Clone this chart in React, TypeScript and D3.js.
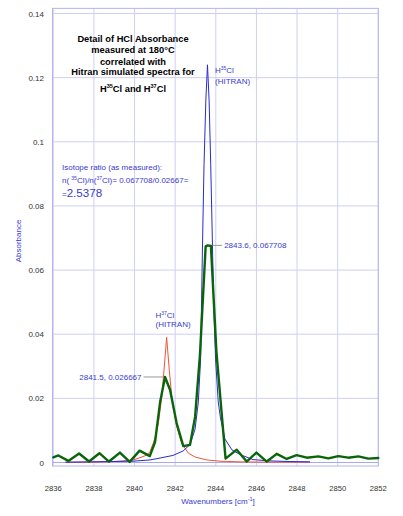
import React from "react";
import * as d3 from "d3";

// ---- data ----
const xTicks = [2836, 2838, 2840, 2842, 2844, 2846, 2848, 2850, 2852];
const yTicks = [0, 0.02, 0.04, 0.06, 0.08, 0.1, 0.12, 0.14];
const yTickLabels = ["0", "0.02", "0.04", "0.06", "0.08", "0.1", "0.12", "0.14"];

// measured spectrum (green)
const measWn = [
  2836.0, 2836.25, 2836.74, 2837.27, 2837.76, 2838.27, 2838.74, 2839.28, 2839.76, 2840.25,
  2840.75, 2841.01, 2841.26, 2841.5, 2841.75, 2842.07, 2842.4, 2842.73, 2842.98, 2843.22,
  2843.5, 2843.6, 2843.76, 2844.03, 2844.48, 2845.03, 2845.52, 2846.0, 2846.51, 2847.0,
  2847.49, 2847.98, 2848.48, 2849.05, 2849.54, 2850.03, 2850.52, 2851.02, 2851.51, 2852.0,
];
const measAbs = [
  0.0016, 0.0022, 0.0005, 0.0028, 0.0003, 0.0029, 0.0003, 0.0031, 0.0002, 0.0037,
  0.002, 0.0064, 0.0189, 0.026667, 0.0226, 0.0123, 0.0051, 0.0055, 0.0142, 0.0335,
  0.0674, 0.067708, 0.0675, 0.0345, 0.0012, 0.004, 0.0003, 0.0031, 0.0003, 0.0027,
  0.0011, 0.0023, 0.0015, 0.0019, 0.0013, 0.002, 0.0015, 0.0019, 0.0012, 0.0014,
];

// HITRAN H35Cl (blue)
const h35Wn = [
  2836.6, 2837.81, 2838.79, 2839.92, 2840.76, 2841.26, 2841.89, 2842.39, 2842.73, 2842.98,
  2843.14, 2843.25, 2843.3, 2843.35, 2843.42, 2843.51, 2843.59, 2843.67, 2843.75, 2843.83,
  2843.89, 2843.99, 2844.12, 2844.23, 2844.45, 2844.8, 2845.19, 2845.83, 2846.67, 2847.65,
  2848.64,
];
const h35Abs = [
  0.0001, 0.0002, 0.0003, 0.0004, 0.0008, 0.0014, 0.0022, 0.0036, 0.0056, 0.0104,
  0.0189, 0.032, 0.0507, 0.0694, 0.0928, 0.113, 0.124, 0.113, 0.0928, 0.0694,
  0.0507, 0.032, 0.0189, 0.0139, 0.0073, 0.0039, 0.0025, 0.0009, 0.0005, 0.0003,
  0.0002,
];

// HITRAN H37Cl (red)
const h37Wn = [
  2836.6, 2837.81, 2838.64, 2839.28, 2839.94, 2840.27, 2840.6, 2840.76, 2840.92, 2841.03,
  2841.17, 2841.34, 2841.45, 2841.58, 2841.71, 2841.83, 2842.08, 2842.32, 2842.65, 2842.98,
  2843.55, 2844.21, 2845.19, 2846.67, 2848.64,
];
const h37Abs = [
  0.0001, 0.0001, 0.0002, 0.0004, 0.0008, 0.0015, 0.0023, 0.0034, 0.006, 0.0083,
  0.0122, 0.0205, 0.0288, 0.039, 0.0288, 0.0205, 0.0112, 0.006, 0.0029, 0.0017,
  0.0008, 0.0004, 0.0002, 0.0001, 0.0001,
];

const peak35 = { wn: 2843.6, abs: 0.067708, label: "2843.6, 0.067708" };
const peak37 = { wn: 2841.5, abs: 0.026667, label: "2841.5, 0.026667" };

const FONT = "'Liberation Sans', Arial, Helvetica, sans-serif";
const BLUE_TEXT = "#3a3ad0";

export default function App() {
  const W = 403;
  const H = 516;
  const x = d3.scaleLinear().domain([2836, 2852]).range([53.3, 378.3]);
  const y = d3.scaleLinear().domain([0, 0.14]).range([462.5, 13.5]);

  const line = d3
    .line<[number, number]>()
    .x((d) => x(d[0]))
    .y((d) => y(d[1]));

  const zip = (a: number[], b: number[]) => a.map((v, i) => [v, b[i]] as [number, number]);

  const frameL = x(2836) - 0.8;
  const frameR = x(2852);
  const frameT = y(0.1416);
  const frameB = y(-0.0011);

  const p35x = x(peak35.wn);
  const p35y = y(peak35.abs);
  const p37x = x(peak37.wn);
  const p37y = y(peak37.abs);

  return (
    <svg
      width={W}
      height={H}
      style={{ position: "absolute", left: 0, top: 0, background: "#fff" }}
      fontFamily={FONT}
    >
      <rect x={0} y={0} width={W} height={H} fill="#fff" />
      {/* grid */}
      {xTicks.map((t) => (
        <line key={"gx" + t} x1={x(t)} x2={x(t)} y1={frameT} y2={frameB} stroke="#cfcff5" strokeWidth={1} />
      ))}
      {yTicks.map((t) => (
        <line
          key={"gy" + t}
          x1={frameL}
          x2={frameR}
          y1={y(t)}
          y2={y(t)}
          stroke={t === 0 ? "#a8a8ee" : "#cfcff5"}
          strokeWidth={1}
        />
      ))}
      {/* frame */}
      <rect x={frameL} y={frameT} width={frameR - frameL} height={frameB - frameT} fill="none" stroke="#b4b4f0" strokeWidth={1} />

      {/* tick labels */}
      {yTicks.map((t, i) => (
        <text key={"ty" + t} x={44} y={y(t) + 3} fontSize={8} textAnchor="end" fill="#333">
          {yTickLabels[i]}
        </text>
      ))}
      {xTicks.map((t) => (
        <text key={"tx" + t} x={x(t)} y={490.5} fontSize={7.6} textAnchor="middle" fill="#333">
          {String(t)}
        </text>
      ))}

      {/* axis titles */}
      <text x={21.3} y={241} fontSize={8} fill={BLUE_TEXT} textAnchor="middle" transform="rotate(-90 21.3 241)">
        Absorbance
      </text>
      <text x={218} y={504} fontSize={8} fill={BLUE_TEXT} textAnchor="middle">
        Wavenumbers [cm<tspan fontSize={5.5} dy={-3}>-1</tspan>
        <tspan dy={3}>]</tspan>
      </text>

      {/* curves */}
      <path d={line(zip(h37Wn, h37Abs)) || ""} fill="none" stroke="#f05436" strokeWidth={1} />
      <path d={line(zip(h35Wn, h35Abs)) || ""} fill="none" stroke="#2a2ad4" strokeWidth={1} />
      <path
        d={line(zip(measWn, measAbs)) || ""}
        fill="none"
        stroke="#0a640a"
        strokeWidth={2.4}
        strokeLinejoin="round"
        strokeLinecap="round"
      />

      {/* title */}
      <g fontSize={9.3} fontWeight="bold" fill="#000" textAnchor="middle">
        <text x={133} y={41.5}>Detail of HCl Absorbance</text>
        <text x={133} y={53}>measured at 180°C</text>
        <text x={133} y={64.5}>correlated with</text>
        <text x={133} y={75}>Hitran simulated spectra for</text>
        <text x={133} y={91.5}>
          H<tspan fontSize={5.5} dy={-4}>35</tspan>
          <tspan dy={4}>Cl and H</tspan>
          <tspan fontSize={5.5} dy={-4}>37</tspan>
          <tspan dy={4}>Cl</tspan>
        </text>
      </g>

      {/* isotope ratio */}
      <g fill={BLUE_TEXT} fontSize={8}>
        <text x={62} y={169.5}>Isotope ratio (as measured):</text>
        <text x={62} y={183}>
          n( <tspan fontSize={5} dy={-3}>35</tspan>
          <tspan dy={3}>Cl)/n(</tspan>
          <tspan fontSize={5} dy={-3}>37</tspan>
          <tspan dy={3}>Cl)= 0.067708/0.02667=</tspan>
        </text>
        <text x={62} y={196.5}>
          =<tspan fontSize={11.6}>2.5378</tspan>
        </text>
      </g>

      {/* HITRAN labels */}
      <g fill={BLUE_TEXT} fontSize={8}>
        <text x={215} y={73}>
          H<tspan fontSize={5} dy={-3}>35</tspan>
          <tspan dy={3}>Cl</tspan>
        </text>
        <text x={215} y={83.5}>(HITRAN)</text>
        <text x={155.5} y={317.5}>
          H<tspan fontSize={5} dy={-3}>37</tspan>
          <tspan dy={3}>Cl</tspan>
        </text>
        <text x={155.5} y={327}>(HITRAN)</text>
      </g>

      {/* peak annotations */}
      <line x1={p35x + 5} x2={p35x + 14.5} y1={p35y} y2={p35y} stroke="#999" strokeWidth={1} />
      <text x={p35x + 16.5} y={p35y + 3} fontSize={8} fill={BLUE_TEXT}>
        {peak35.label}
      </text>
      <line x1={p37x - 21.5} x2={p37x - 1.5} y1={p37y} y2={p37y} stroke="#999" strokeWidth={1} />
      <text x={p37x - 23.5} y={p37y + 3} fontSize={8} fill={BLUE_TEXT} textAnchor="end">
        {peak37.label}
      </text>
    </svg>
  );
}
